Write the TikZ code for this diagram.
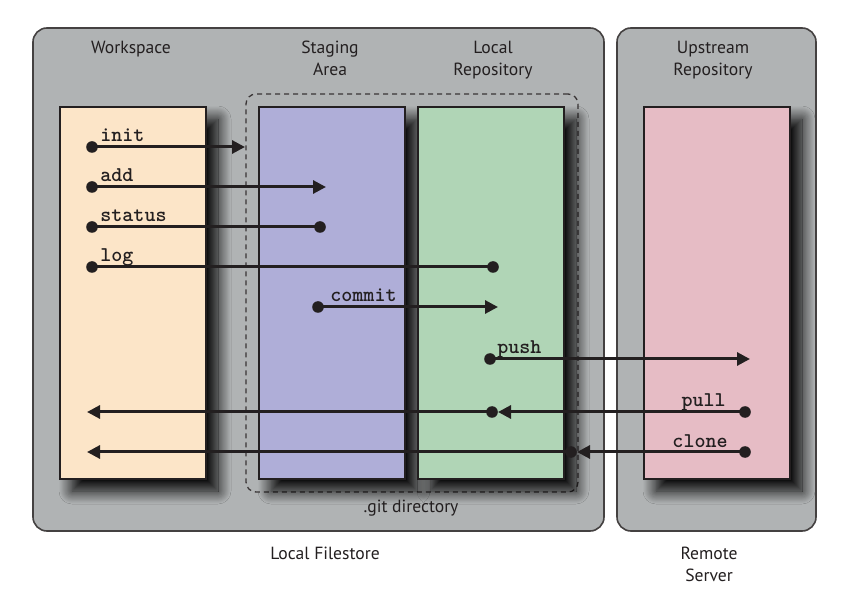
\documentclass[tikz,border=0pt]{standalone}
\usepackage{fontspec}
\setmainfont{PT Sans}
\usetikzlibrary{arrows.meta,shadows.blur}
\definecolor{panelgray}{HTML}{B0B3B4}
\definecolor{peach}{HTML}{FCE5C8}
\definecolor{lavender}{HTML}{AFAED8}
\definecolor{mint}{HTML}{B0D5B6}
\definecolor{rose}{HTML}{E6BCC5}
\definecolor{ink}{HTML}{231F20}
\begin{document}
\begin{tikzpicture}[x=0.5pt,y=-0.5pt,
  panel/.style={draw=ink!85,line width=0.8pt,fill=panelgray,rounded corners=7pt,inner sep=0pt},
  area/.style={draw=ink,line width=0.75pt,inner sep=0pt,minimum width=73pt,minimum height=186pt,
    blur shadow={shadow xshift=6pt,shadow yshift=-6pt,shadow blur radius=6.5pt,shadow opacity=100,shadow blur steps=16}},
  gitdir/.style={draw=ink!90,line width=0.65pt,dash pattern=on 2.5pt off 2pt,rounded corners=5pt,inner sep=0pt,
    minimum width=166pt,minimum height=199pt},
  title/.style={text=ink,font=\fontsize{8.8}{11}\selectfont,align=center,inner sep=0pt},
  cmdlabel/.style={text=ink,font=\ttfamily\bfseries\fontsize{10.5}{12}\selectfont,inner sep=0pt},
  cmd/.style={draw=ink,line width=1.5pt},
  tip/.style={-{Triangle[length=6.5pt,width=6.5pt]}},
  dot/.style={fill=ink}
]
\useasboundingbox[fill=white] (0,0) rectangle (862,598);
% panels
\node[panel,minimum width=285.5pt,minimum height=251.5pt] (local) at (318.5,279.5) {};
\node[panel,minimum width=99.5pt,minimum height=251.5pt] (remote) at (716.5,279.5) {};
% git directory
\node[gitdir] (git) at (412,293) {};
% areas
\node[area,fill=peach] (ws) at (133,293) {};
\node[area,fill=lavender] (stage) at (332,293) {};
\node[area,fill=mint] (repo) at (491,293) {};
\node[area,fill=rose] (up) at (717,293) {};
% titles
\node[title,anchor=base] (tws) at (131,54) {Workspace};
\node[title,anchor=base] (tst) at (330,76) {Staging\\Area};
\node[title,anchor=base] (trp) at (493,76) {Local\\Repository};
\node[title,anchor=base] (tup) at (713,76) {Upstream\\Repository};
\node[title,anchor=base] (tgit) at (411,512) {.git directory};
\node[title,anchor=base] (tlf) at (325,559) {Local Filestore};
\node[title,anchor=base] (trs) at (709,581) {Remote\\Server};
% coordinates
\coordinate (initS) at (92,147);   \coordinate (initE) at (245,147);
\coordinate (addS) at (92,187);    \coordinate (addE) at (326,187);
\coordinate (statS) at (92,227);   \coordinate (statE) at (320,227);
\coordinate (logS) at (92,267);    \coordinate (logE) at (493,267);
\coordinate (comS) at (318,307);   \coordinate (comE) at (498,307);
\coordinate (pushS) at (490,359);  \coordinate (pushE) at (750,359);
\coordinate (pullS) at (745,412);  \coordinate (pullM) at (492,412); \coordinate (pullE) at (87,412);
\coordinate (cloS) at (745,452);   \coordinate (cloM) at (571,452);  \coordinate (cloE) at (87,452);
% connectors
\draw[cmd,tip] (initS) -- (initE);
\draw[cmd,tip] (addS) -- (addE);
\draw[cmd] (statS) -- (statE);
\draw[cmd] (logS) -- (logE);
\draw[cmd,tip] (comS) -- (comE);
\draw[cmd,tip] (pushS) -- (pushE);
\draw[cmd,tip,shorten >=3pt] (pullS) -- (pullM);
\draw[cmd,tip] (pullM) -- (pullE);
\draw[cmd,tip,shorten >=3pt] (cloS) -- (cloM);
\draw[cmd,tip] (cloM) -- (cloE);
% dots
\foreach \p in {initS,addS,statS,statE,logS,logE,comS,pushS,pullS,pullM,cloS,cloM}
  \fill[dot] (\p) circle[radius=2.9pt];
% command labels
\node[cmdlabel,anchor=base west] (linit) at (100,142) {init};
\node[cmdlabel,anchor=base west] (ladd) at (100,182) {add};
\node[cmdlabel,anchor=base west] (lstat) at (100,222) {status};
\node[cmdlabel,anchor=base west] (llog) at (100,262) {log};
\node[cmdlabel,anchor=base west] (lcom) at (330,302) {commit};
\node[cmdlabel,anchor=base west] (lpush) at (497,354) {push};
\node[cmdlabel,anchor=base east] (lpull) at (726,407) {pull};
\node[cmdlabel,anchor=base east] (lclo) at (728,448) {clone};
\end{tikzpicture}
\end{document}
